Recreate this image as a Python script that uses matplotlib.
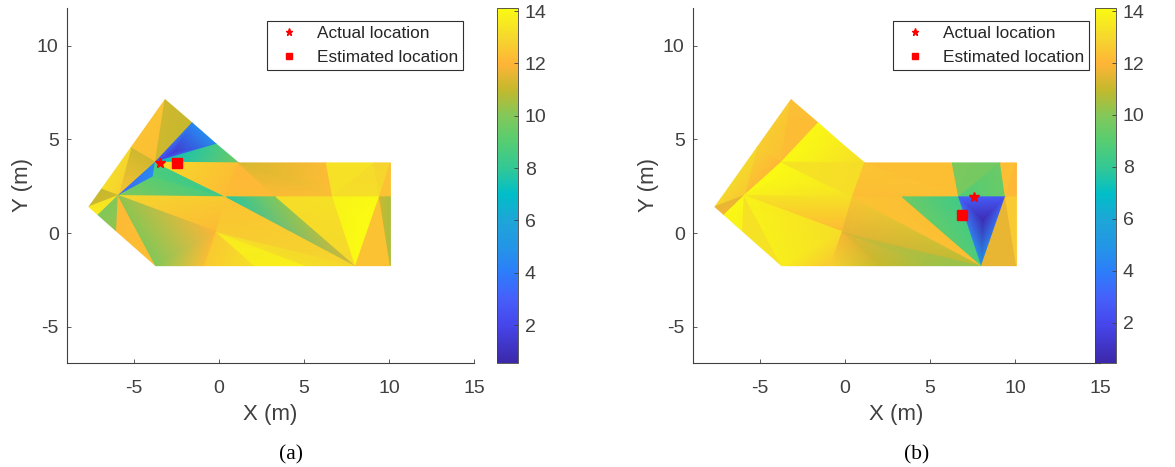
import numpy as np
import matplotlib
matplotlib.use("Agg")
import matplotlib.pyplot as plt
from matplotlib.cm import ScalarMappable
from matplotlib.colors import LinearSegmentedColormap, Normalize

plt.rcParams['font.family'] = ['Liberation Sans', 'DejaVu Sans']
plt.rcParams['axes.unicode_minus'] = False

# mesh corners (same mesh in both panels)
vertex_names = list("ABCDEFGHIJKLMNOPQRSVWXYabcdef")
vertex_x = [-3.15, -1.56, -0.14, 1.17, 10.09, 10.09, 10.09, -3.70, -7.62, -5.90,
            -3.72, 0.45, -0.14, 8.04, 9.44, -5.16, -6.88, -7.08, -6.00, 6.32,
            6.70, 9.15, 3.38, -0.82, 2.11, 5.14, -3.85, -2.58, 8.11]
vertex_y = [7.11, 5.87, 4.74, 3.74, 3.74, 1.93, -1.74, -1.74, 1.40, 2.00,
            3.78, 1.93, 0.07, -1.74, 1.93, 4.54, 2.34, 0.97, 0.10, 3.74,
            1.93, 3.74, 1.93, -1.74, -1.74, -1.74, 3.00, 4.32, 0.69]

triangles = ["APK", "ABK", "KBe", "BCe", "CKe", "KCD", "PKJ", "QPJ", "QJI", "IJR",
             "RJS", "JSH", "KJd", "dJL", "KdL", "KDL", "DLY", "DWV", "DYW", "VWX",
             "XWO", "XOE", "EOF", "JLM", "JMH", "MHa", "Mab", "Mbc", "McN", "LMN",
             "LYN", "YWN", "WOf", "ONf", "NWf", "OGN", "OFG"]

# corner values of each triangle, same order as the corner letters
values_a = [
    (12.4, 12.4, 12.3), (11.2, 11.0, 11.2), (2.5, 4.4, 1.5), (4.4, 4.6, 1.5), (4.6, 2.5, 1.5),
    (7.0, 8.5, 9.6), (11.2, 11.2, 12.4), (13.2, 13.0, 12.8), (11.0, 11.2, 11.2), (13.5, 13.3, 13.6),
    (10.0, 10.0, 10.2), (12.2, 12.2, 12.3), (4.4, 3.2, 4.6), (9.0, 10.0, 8.6), (8.6, 8.8, 8.2),
    (13.2, 12.3, 12.2), (12.0, 12.2, 12.2), (11.3, 12.3, 12.2), (11.4, 12.2, 12.3), (13.3, 13.3, 13.3),
    (13.1, 13.2, 13.2), (12.9, 13.1, 12.9), (12.4, 12.4, 12.4), (13.0, 12.6, 12.2), (10.2, 12.0, 10.0),
    (12.0, 10.0, 12.3), (12.6, 12.6, 13.3), (13.6, 13.7, 13.8), (13.2, 13.2, 13.0), (12.4, 12.6, 13.0),
    (7.8, 10.0, 11.4), (13.2, 13.3, 13.0), (13.9, 14.1, 14.1), (14.1, 14.1, 14.1), (14.1, 13.9, 14.1),
    (12.4, 12.4, 12.4), (11.2, 10.6, 10.6),
]
values_b = [
    (12.6, 12.7, 12.3), (12.3, 12.2, 12.2), (14.0, 14.0, 14.0), (14.0, 13.6, 14.0), (13.6, 14.0, 14.0),
    (14.1, 13.6, 13.2), (12.8, 12.0, 12.2), (13.0, 13.0, 12.6), (13.0, 12.5, 12.9), (11.6, 11.6, 11.8),
    (14.0, 14.0, 13.8), (13.3, 13.3, 13.4), (14.1, 14.1, 14.0), (14.0, 13.8, 13.2), (14.1, 14.0, 13.3),
    (13.4, 13.2, 13.2), (12.5, 12.2, 12.2), (12.3, 12.3, 12.3), (12.4, 12.3, 12.3), (9.8, 9.7, 9.6),
    (9.5, 8.8, 9.4), (12.3, 12.3, 12.3), (12.0, 12.2, 12.0), (13.4, 13.3, 12.1), (13.8, 13.2, 13.7),
    (13.2, 13.7, 12.6), (11.8, 12.8, 11.0), (11.6, 11.0, 10.4), (11.3, 10.4, 10.2), (12.5, 11.6, 10.8),
    (12.4, 12.3, 12.3), (9.5, 8.3, 8.8), (3.0, 2.6, 0.7), (2.6, 5.0, 0.7), (5.0, 3.0, 0.7),
    (11.6, 11.6, 11.6), (12.6, 12.6, 12.6),
]

actual_a = (-3.42, 3.76)
estimated_a = (-2.46, 3.71)
actual_b = (7.57, 1.90)
estimated_b = (6.92, 0.97)

xticks = [-5, 0, 5, 10, 15]
yticks = [-5, 0, 5, 10]
cbar_ticks = [2, 4, 6, 8, 10, 12, 14]
captions = ["(a)", "(b)"]

# colour scale
cmap_levels = [0.55, 2, 3, 4, 5, 6, 7, 8, 9, 10, 11, 12, 13, 14.12]
cmap_rgb = [(60, 40, 170), (70, 70, 235), (70, 95, 250), (45, 125, 250), (35, 150, 230),
            (30, 165, 215), (0, 190, 200), (50, 200, 150), (85, 205, 115), (130, 200, 90),
            (195, 185, 45), (255, 180, 55), (245, 215, 45), (250, 250, 20)]
parula = LinearSegmentedColormap.from_list("parula", [
    ((lv - cmap_levels[0]) / (cmap_levels[-1] - cmap_levels[0]), tuple(c / 255 for c in rgb))
    for lv, rgb in zip(cmap_levels, cmap_rgb)])

W, H = 1175, 467
grey = '#404040'
fig = plt.figure(figsize=(W / 100, H / 100), dpi=100)
lookup = dict(zip(vertex_names, zip(vertex_x, vertex_y)))


def draw_panel(left, cbar_left, values, actual, estimated, vmin, vmax, caption):
    ax = fig.add_axes([left / W, (H - 363) / H, 407 / W, 355 / H])
    px = [lookup[c][0] for t in triangles for c in t]
    py = [lookup[c][1] for t in triangles for c in t]
    cv = np.array(values).ravel()
    tri = np.arange(len(px)).reshape(-1, 3)
    ax.tripcolor(px, py, tri, cv, shading='gouraud', cmap=parula, vmin=vmin, vmax=vmax)
    ax.plot(*actual, '*', color='red', ms=7, ls='none', label='Actual location')
    ax.plot(*estimated, 's', color='red', ms=6.5, ls='none', label='Estimated location')

    ax.set_xlim(-8.91, 15)
    ax.set_ylim(-6.93, 12)
    ax.set_xticks(xticks)
    ax.set_yticks(yticks)
    ax.spines[['top', 'right']].set_visible(False)
    for s in ['left', 'bottom']:
        ax.spines[s].set_color(grey)
        ax.spines[s].set_linewidth(0.8)
    ax.tick_params(direction='in', length=3, width=0.6, color=grey, labelcolor=grey,
                   labelsize=14, pad=5)
    ax.tick_params(axis='x', pad=12)
    ax.tick_params(axis='y', pad=6)
    ax.set_xlabel('X (m)', fontsize=16, color=grey, labelpad=5)
    ax.set_ylabel('Y (m)', fontsize=16, color=grey, labelpad=3)

    leg = ax.legend(loc='upper left', bbox_to_anchor=(200 / 407, (363 - 21) / 355),
                    fontsize=12.4, frameon=True, fancybox=False, framealpha=1,
                    edgecolor='#303030', borderpad=0.3, labelspacing=0.48,
                    handlelength=1.93, handletextpad=0.65, borderaxespad=0, markerscale=0.75)
    leg.get_frame().set_linewidth(0.8)
    for t in leg.get_texts():
        t.set_color('#262626')

    cax = fig.add_axes([cbar_left / W, (H - 363) / H, 21 / W, 355 / H])
    cb = fig.colorbar(ScalarMappable(Normalize(vmin, vmax), parula), cax=cax)
    cb.set_ticks(cbar_ticks)
    cb.ax.tick_params(direction='in', length=3, width=0.6, color=grey, labelcolor=grey,
                      labelsize=14, pad=5)
    cb.outline.set_edgecolor(grey)
    cb.outline.set_linewidth(0.6)

    fig.text((left + 224) / W, (H - 455) / H, caption, family=['Liberation Serif'],
             fontsize=15.5, ha='center', va='center', color='black')


draw_panel(67, 497, values_a, actual_a, estimated_a, 0.55, 14.12, captions[0])
draw_panel(693, 1095, values_b, actual_b, estimated_b, 0.45, 14.12, captions[1])

fig.savefig('out.png', dpi=100)
